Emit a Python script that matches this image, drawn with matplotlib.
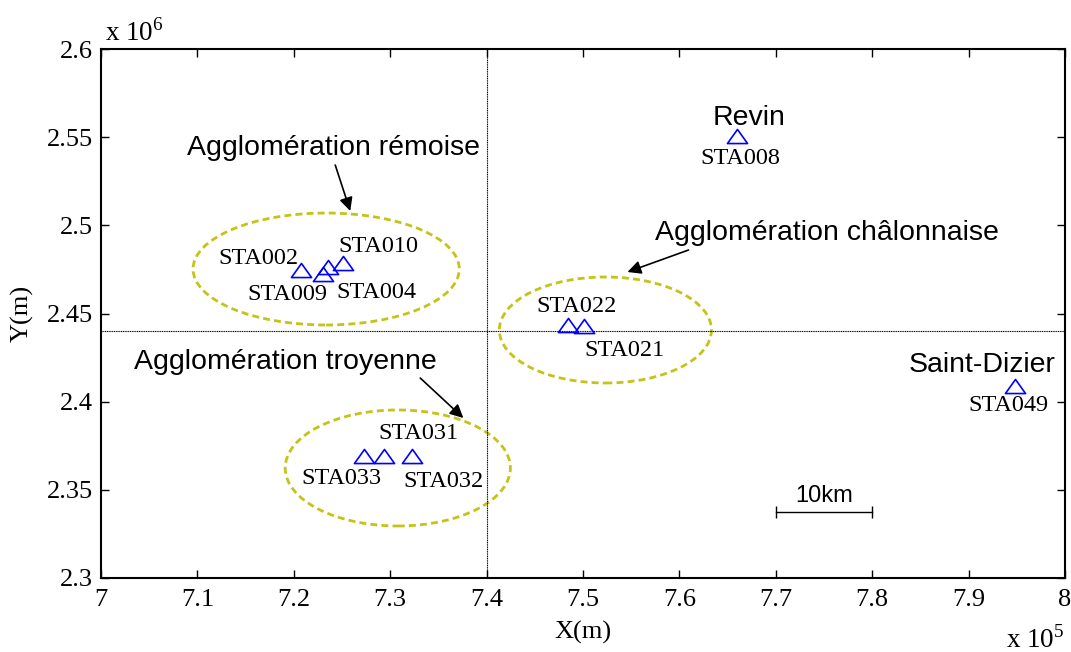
import numpy as np
import matplotlib
matplotlib.use('Agg')
import matplotlib.pyplot as plt
from matplotlib.patches import Ellipse
from matplotlib.path import Path
from matplotlib.ticker import FuncFormatter

plt.rcParams['font.family'] = 'Liberation Serif'
plt.rcParams['mathtext.fontset'] = 'custom'
plt.rcParams['mathtext.rm'] = 'Liberation Serif'

# stations (m)
names = ['STA002', 'STA009', 'STA004', 'STA010', 'STA033', 'STA031', 'STA032',
         'STA022', 'STA021', 'STA008', 'STA049']
xs = [720740, 723020, 723600, 725060, 727310, 729390, 732260,
      748420, 750080, 765940, 794810]
ys = [2474670, 2472400, 2476370, 2478640, 2369190, 2369190, 2369190,
      2443480, 2443000, 2550490, 2409170]
# label offsets (pixels) from each triangle
offs = [(-42, 12), (-36, -20), (48, -25), (36, 17), (-23, -22), (34, 23), (32, -25),
        (9, 19), (41, -25), (4, -22), (-6, -20)]

# agglomerations: ellipse centre, width, height
ell_x = [723360, 730790, 752330]
ell_y = [2475240, 2362390, 2440650]
ell_w = [27620, 23360, 22010]
ell_h = [63500, 65780, 60110]

# names and arrows
zones = ['Agglomération rémoise', 'Agglomération troyenne', 'Agglomération châlonnaise']
zone_tx = [724090, 719110, 775280]
zone_ty = [2543860, 2422500, 2495650]
arr_tail = [(724300, 2534220), (733120, 2413420), (760950, 2486010)]
arr_head = [(725860, 2508130), (737590, 2390740), (754620, 2473540)]

towns = ['Revin', 'Saint-Dizier']
town_x = [767190, 791380]
town_y = [2560870, 2420800]

x0, x1 = 700000, 800000
y0, y1 = 2300000, 2600000
xcut, ycut = 740000, 2440000

fig = plt.figure(figsize=(10.71, 6.52), dpi=100)
ax = fig.add_axes([0.0943, 0.1135, 0.9, 0.8113])

ax.axvline(xcut, color='k', lw=0.8, ls=(0, (1, 0.6)))
ax.axhline(ycut, color='k', lw=0.8, ls=(0, (1, 0.6)))

tri = Path([(-1, -0.7), (1, -0.7), (0, 0.7), (-1, -0.7)],
           [Path.MOVETO, Path.LINETO, Path.LINETO, Path.CLOSEPOLY])
ax.plot(xs, ys, ls='none', marker=tri, markersize=14.5, markerfacecolor='none',
        markeredgecolor='blue', markeredgewidth=1.2)

for n, x, y, o in zip(names, xs, ys, offs):
    ax.annotate(n, (x, y), xytext=o, textcoords='offset pixels',
                ha='center', va='center', fontsize=17.5)

for cx, cy, w, h in zip(ell_x, ell_y, ell_w, ell_h):
    ax.add_patch(Ellipse((cx, cy), w, h, fill=False, ec='#c4c418', lw=2,
                         ls=(0, (2.5, 1.5))))

for z, tx, ty, t, hd in zip(zones, zone_tx, zone_ty, arr_tail, arr_head):
    ax.text(tx, ty, z, family='Liberation Sans', fontsize=20.5, ha='center', va='center')
    ax.annotate('', xy=hd, xytext=t,
                arrowprops=dict(arrowstyle='-|>', color='k', lw=1.2, mutation_scale=20,
                                shrinkA=0, shrinkB=0))

for t, x, y in zip(towns, town_x, town_y):
    ax.text(x, y, t, family='Liberation Sans', fontsize=20.5, ha='center', va='center')

# scale bar 10 km
ax.plot([770000, 780000], [2337500, 2337500], color='k', lw=1,
        marker='|', markersize=8, markeredgewidth=1)
ax.text(775000, 2340000, '10km', family='Liberation Sans', fontsize=17,
        ha='center', va='bottom')

ax.set_xlim(x0, x1)
ax.set_ylim(y0, y1)
ax.set_xticks(np.arange(x0, x1 + 1, 10000))
ax.set_yticks(np.arange(y0, y1 + 1, 50000))
ax.xaxis.set_major_formatter(FuncFormatter(lambda v, p: '%g' % (v / 1e5)))
ax.yaxis.set_major_formatter(FuncFormatter(lambda v, p: '%g' % (v / 1e6)))
ax.tick_params(direction='in', length=6, width=1, labelsize=19, top=True, right=True)
ax.tick_params(axis='x', pad=8)
ax.tick_params(axis='y', pad=6)
for s in ax.spines.values():
    s.set_linewidth(1.5)

ax.text(0.004, 1.004, 'x 10$^{6}$', transform=ax.transAxes, fontsize=19.5,
        ha='left', va='bottom')
ax.text(1.0, -0.117, 'x 10$^{5}$', transform=ax.transAxes, fontsize=19.5,
        ha='right', va='center')
fig.text(583 / 1071, 1 - 632 / 652, 'X(m)', fontsize=19, ha='center', va='center')
fig.text(22 / 1071, 1 - 313 / 652, 'Y(m)', fontsize=19, ha='center', va='center',
         rotation=90)

fig.savefig('out.png', dpi=100)
